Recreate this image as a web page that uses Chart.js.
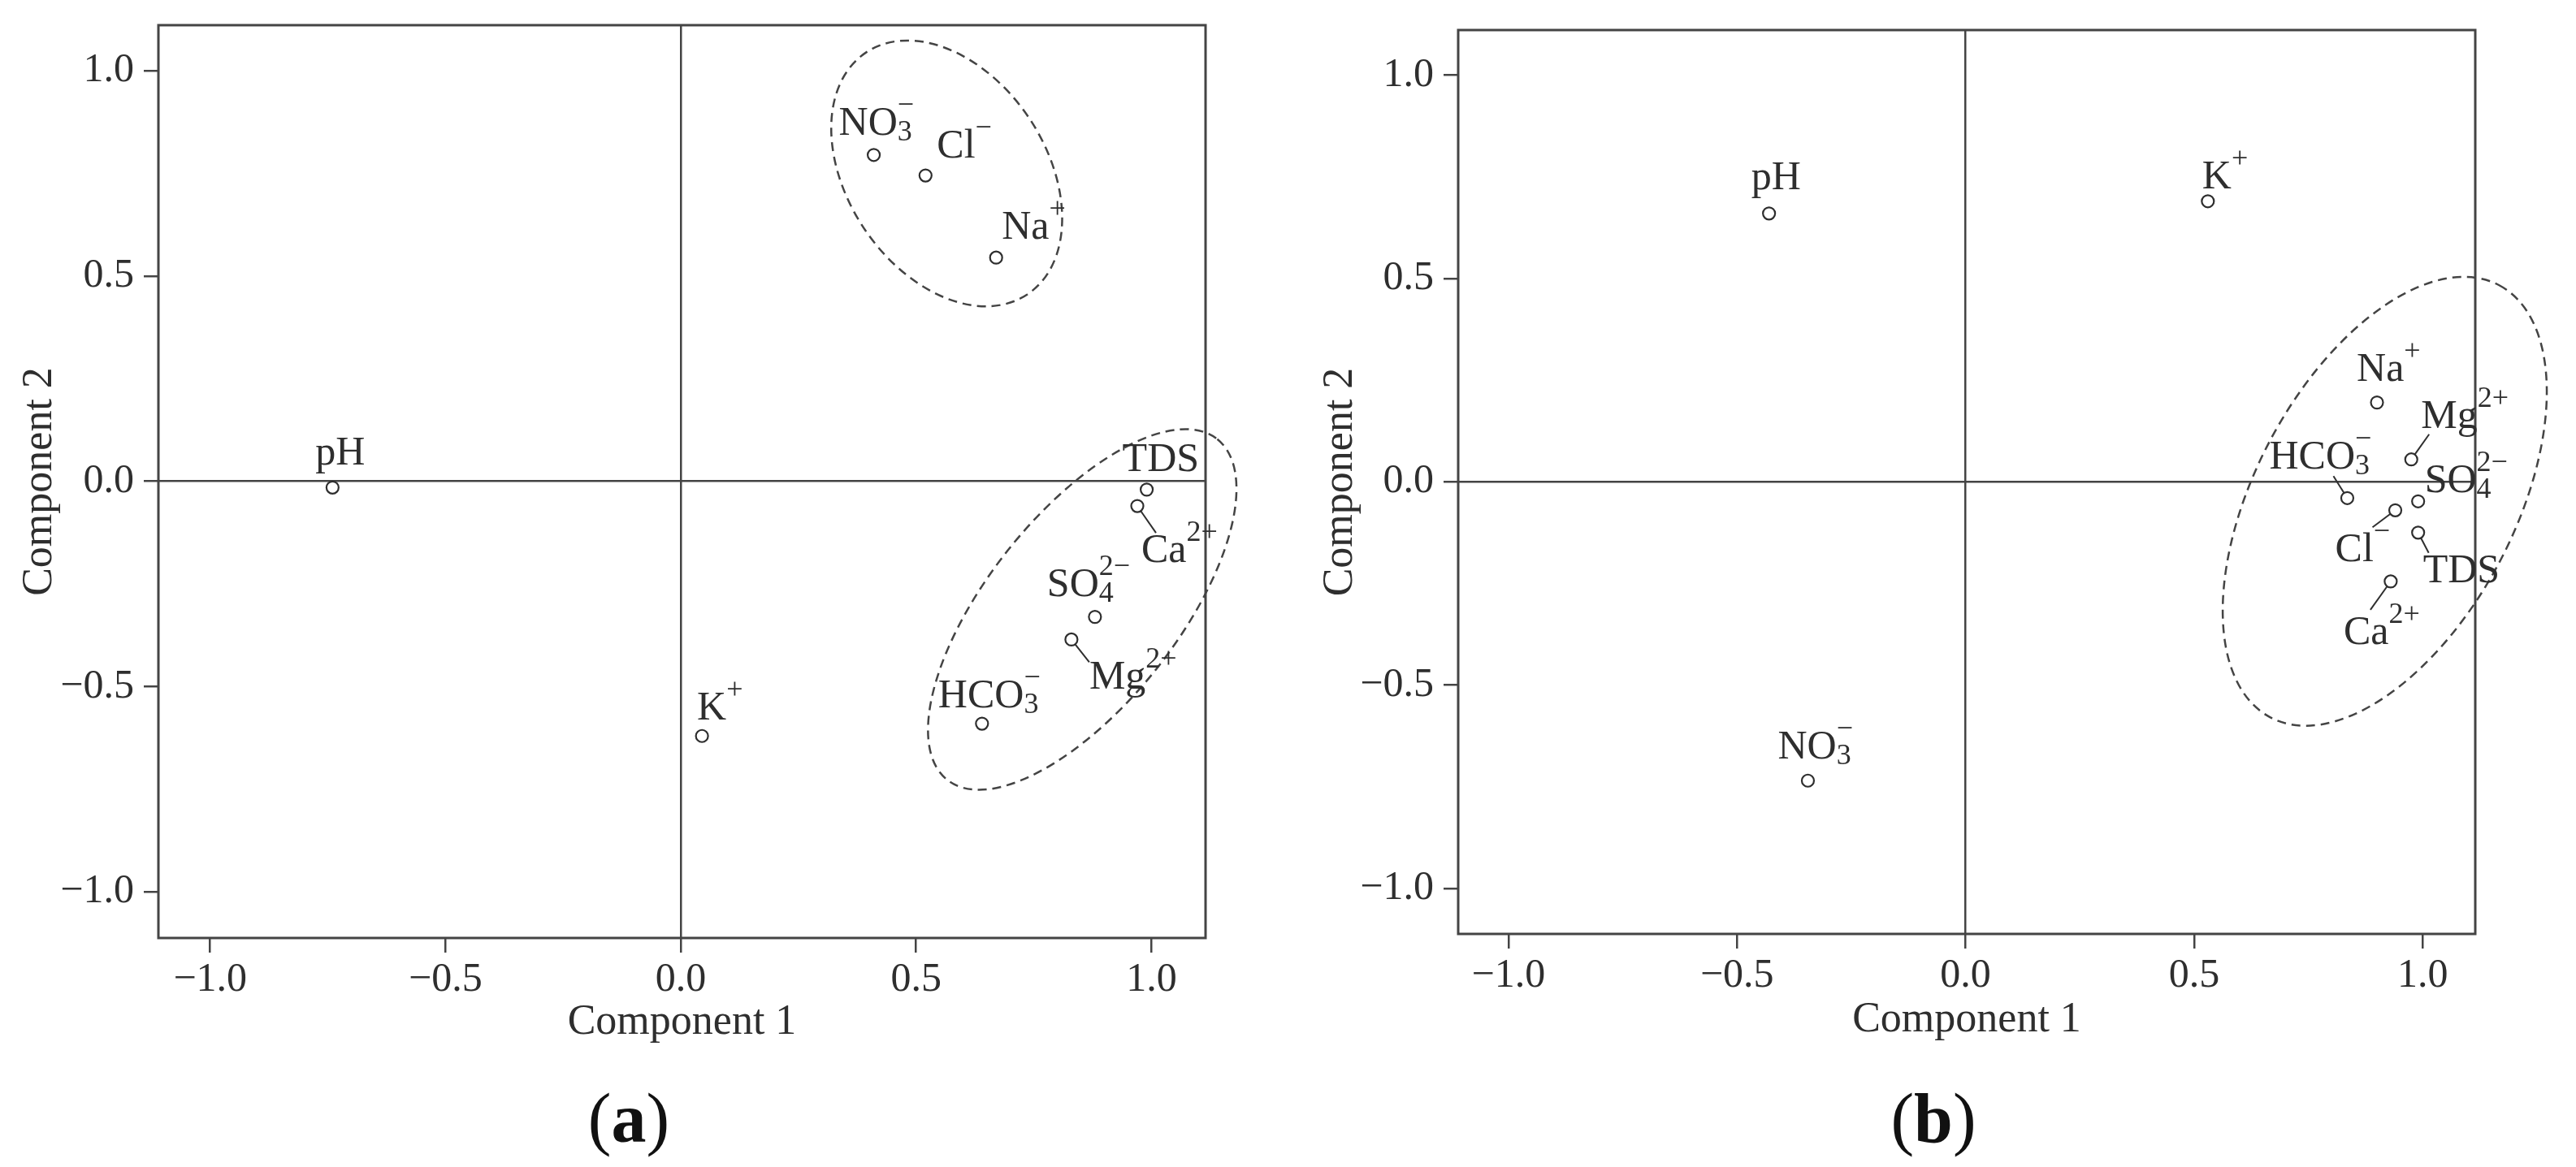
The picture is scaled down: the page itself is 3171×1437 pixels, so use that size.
<!DOCTYPE html>
<html>
<head>
<meta charset="utf-8">
<script src="https://cdn.jsdelivr.net/npm/chart.js@4.4.1/dist/chart.umd.min.js"></script>
<style>
  html, body { margin: 0; padding: 0; background: #fff; }
  body { width: 3171px; height: 1437px; position: relative; overflow: hidden; }
  canvas { position: absolute; top: 0; }
  #chartA { left: 0; }
  #chartB { left: 1580px; }
  .caption { position: absolute; top: 1334px; width: 300px; text-align: center;
             font: 86px/1 "Liberation Serif", serif; font-weight: normal; color: #111; }
  .caption b { font-weight: bold; }
</style>
</head>
<body>
<canvas id="chartA" width="1580" height="1300"></canvas>
<canvas id="chartB" width="1591" height="1300"></canvas>
<div class="caption" style="left:624px">(<b>a</b>)</div>
<div class="caption" style="left:2230px">(<b>b</b>)</div>
<script>
// variables in the PCA loading plot
const variables = ['pH', 'K+', 'Na+', 'Ca2+', 'Mg2+', 'Cl−', 'SO42−', 'HCO3−', 'NO3−', 'TDS'];

// (a) loadings on component 1 / component 2
const loadA1 = [-0.74, 0.045, 0.67, 0.97, 0.83, 0.52, 0.88, 0.64, 0.41, 0.99];
const loadA2 = [-0.015, -0.62, 0.545, -0.06, -0.385, 0.745, -0.33, -0.59, 0.795, -0.02];

// (b) loadings on component 1 / component 2
const loadB1 = [-0.43, 0.53, 0.90, 0.93, 0.975, 0.94, 0.99, 0.835, -0.345, 0.99];
const loadB2 = [0.66, 0.69, 0.195, -0.245, 0.055, -0.07, -0.048, -0.04, -0.735, -0.125];

const axisTicks = [-1.0, -0.5, 0.0, 0.5, 1.0];

// how each name is typeset: base, subscript, superscript
const labelParts = {
  'pH': ['pH', '', ''],
  'K+': ['K', '', '+'],
  'Na+': ['Na', '', '+'],
  'Ca2+': ['Ca', '', '2+'],
  'Mg2+': ['Mg', '', '2+'],
  'Cl−': ['Cl', '', '−'],
  'SO42−': ['SO', '4', '2−'],
  'HCO3−': ['HCO', '3', '−'],
  'NO3−': ['NO', '3', '−'],
  'TDS': ['TDS', '', '']
};

const SERIF = '"Liberation Serif", "Times New Roman", serif';
const INK = '#2e2e2e';
const LINE = '#444';

// label placement relative to each point (px), and leader line ends
const offsetsA = [[-21, -28], [-6, -20], [7, -23], [5, 69], [22, 61], [14, -22], [-59, -26], [-54, -20], [-43, -25], [-30, -23]];
const leadersA = [null, null, null, [23, 33], [22, 28], null, null, null, null, null];
const offsetsB = [[-22, -30], [-7, -16], [-25, -27], [-58, 77], [12, -39], [-74, 63], [8, -11], [-96, -36], [-37, -27], [6, 61]];
const leadersB = [null, null, null, [-25, 35], [22, -31], [-28, 21], null, [-17, -27], null, [13, 25]];

// dashed group outlines: centre in axis units, half axes in x units, tilt in degrees
const ringsA = [
  { cx: 0.565, cy: 0.75, a: 0.309, b: 0.211, angle: 56.3 },
  { cx: 0.853, cy: -0.312, a: 0.462, b: 0.202, angle: -51.6 }
];
const ringsB = [
  { cx: 0.917, cy: -0.048, a: 0.535, b: 0.284, angle: -62.1 }
];

const fmt = v => (v < 0 ? '−' : '') + Math.abs(v).toFixed(1);

function axisOpts(title, fit, tickPad, titlePad, min, max) {
  return {
    type: 'linear',
    min: min,
    max: max,
    afterBuildTicks: s => { s.ticks = axisTicks.map(v => ({ value: v })); },
    afterFit: s => {
      if (s.isHorizontal()) {
        s.height = fit;
        s.paddingLeft = 0;
        s.paddingRight = 0;
      } else {
        s.width = fit;
        s.paddingTop = 0;
        s.paddingBottom = 0;
      }
    },
    grid: {
      color: c => (c.tick && c.tick.value === 0 ? LINE : 'rgba(0,0,0,0)'),
      lineWidth: 2.5,
      tickColor: LINE,
      tickWidth: 2.5,
      tickLength: 18
    },
    border: { display: false },
    ticks: { padding: tickPad, color: INK, font: { family: SERIF, size: 50 }, callback: fmt },
    title: { display: true, text: title, color: INK, font: { family: SERIF, size: 52 }, padding: titlePad }
  };
}

const frame = {
  id: 'frame',
  afterDatasetsDraw(chart) {
    const { ctx, chartArea: a } = chart;
    ctx.save();
    ctx.strokeStyle = LINE;
    ctx.lineWidth = 3;
    ctx.strokeRect(a.left, a.top, a.right - a.left, a.bottom - a.top);
    ctx.restore();
  }
};

function ringPlugin(rings) {
  return {
    id: 'rings',
    beforeDatasetsDraw(chart) {
      const { ctx, scales: { x, y } } = chart;
      const unit = x.getPixelForValue(1) - x.getPixelForValue(0);
      ctx.save();
      ctx.setLineDash([11, 7]);
      ctx.lineWidth = 2.5;
      ctx.strokeStyle = LINE;
      rings.forEach(r => {
        ctx.beginPath();
        ctx.ellipse(x.getPixelForValue(r.cx), y.getPixelForValue(r.cy), r.a * unit, r.b * unit,
          r.angle * Math.PI / 180, 0, 2 * Math.PI);
        ctx.stroke();
      });
      ctx.restore();
    }
  };
}

function labelPlugin(offsets, leaders) {
  return {
    id: 'pointLabels',
    afterDatasetsDraw(chart) {
      const { ctx } = chart;
      const pts = chart.getDatasetMeta(0).data;
      ctx.save();
      ctx.fillStyle = INK;
      ctx.strokeStyle = INK;
      ctx.lineWidth = 2;
      ctx.textAlign = 'left';
      ctx.textBaseline = 'alphabetic';
      pts.forEach((p, i) => {
        const lead = leaders[i];
        if (lead) {
          const len = Math.hypot(lead[0], lead[1]);
          ctx.beginPath();
          ctx.moveTo(p.x + lead[0] / len * 7.5, p.y + lead[1] / len * 7.5);
          ctx.lineTo(p.x + lead[0], p.y + lead[1]);
          ctx.stroke();
        }
        const [base, sub, sup] = labelParts[variables[i]];
        let x = p.x + offsets[i][0];
        const y = p.y + offsets[i][1];
        ctx.font = '50px ' + SERIF;
        ctx.fillText(base, x, y);
        x += ctx.measureText(base).width;
        ctx.font = '36px ' + SERIF;
        if (sub) ctx.fillText(sub, x, y + 7);
        if (sup) ctx.fillText(sup, x, y - 26);
      });
      ctx.restore();
    }
  };
}

function makeChart(id, xs, ys, offsets, leaders, rings, box) {
  const ctx = document.getElementById(id).getContext('2d');
  return new Chart(ctx, {
    type: 'scatter',
    data: {
      datasets: [{
        data: xs.map((x, i) => ({ x: x, y: ys[i] })),
        pointRadius: 7.5,
        pointHoverRadius: 7.5,
        pointBorderWidth: 2.2,
        pointBorderColor: INK,
        pointBackgroundColor: '#fff'
      }]
    },
    options: {
      responsive: false,
      animation: false,
      layout: { padding: { left: 0, top: box.top, right: box.right, bottom: 0 } },
      plugins: { legend: { display: false }, tooltip: { enabled: false } },
      scales: {
        x: axisOpts('Component 1', box.xh, 4, { top: 0, bottom: box.xtp }, -1.11, 1.115),
        y: axisOpts('Component 2', box.yw, 12, { top: box.ytp, bottom: 0 }, -1.112, 1.111)
      }
    },
    plugins: [ringPlugin(rings), frame, labelPlugin(offsets, leaders)]
  });
}

makeChart('chartA', loadA1, loadA2, offsetsA, leadersA, ringsA,
  { top: 31, right: 96, xh: 145, yw: 195, xtp: 9, ytp: 18 });
makeChart('chartB', loadB1, loadB2, offsetsB, leadersB, ringsB,
  { top: 37, right: 124, xh: 150, yw: 215, xtp: 12, ytp: 39 });
</script>
</body>
</html>
